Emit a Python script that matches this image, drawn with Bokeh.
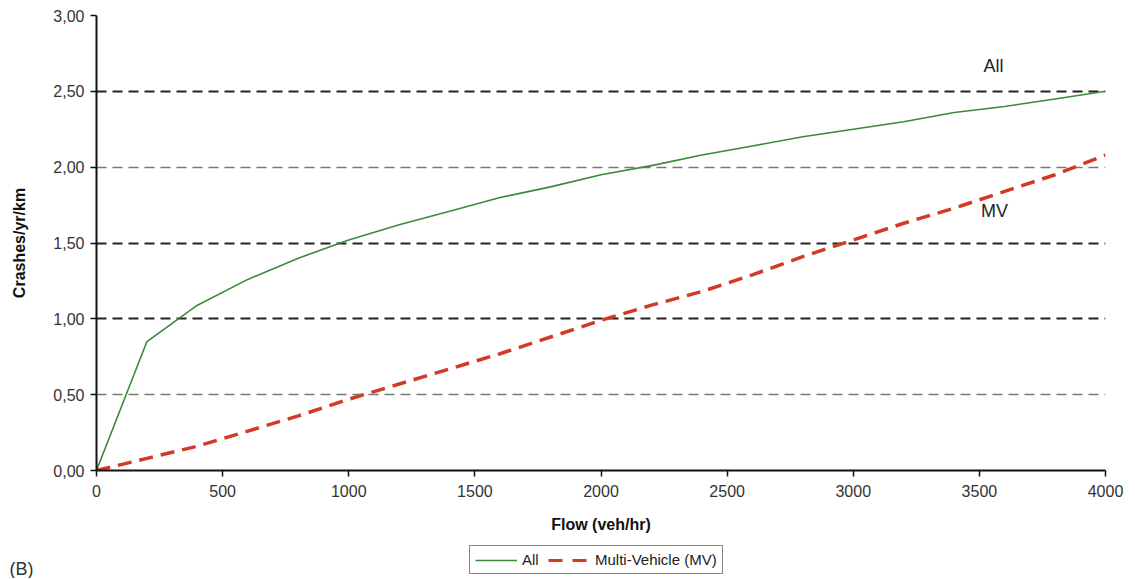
from bokeh.plotting import figure
from bokeh.models import Range1d, FixedTicker, CustomJSTickFormatter, Label, Legend, LegendItem, Grid
from bokeh.layouts import column
from bokeh.embed import file_html
from bokeh.resources import INLINE

flow = [0, 200, 400, 600, 800, 1000, 1200, 1400, 1600, 1800, 2000,
        2200, 2400, 2600, 2800, 3000, 3200, 3400, 3600, 3800, 4000]
all_crashes = [0.00, 0.85, 1.09, 1.26, 1.40, 1.52, 1.62, 1.71, 1.80, 1.87, 1.95,
               2.01, 2.08, 2.14, 2.20, 2.25, 2.30, 2.36, 2.40, 2.45, 2.50]
mv_crashes = [0.00, 0.08, 0.16, 0.26, 0.36, 0.47, 0.57, 0.67, 0.77, 0.88, 0.99,
              1.09, 1.18, 1.29, 1.41, 1.52, 1.63, 1.73, 1.84, 1.95, 2.08]
x_ticks = [0, 500, 1000, 1500, 2000, 2500, 3000, 3500, 4000]
y_ticks = [0.0, 0.5, 1.0, 1.5, 2.0, 2.5, 3.0]
grid_dark = [1.0, 1.5, 2.5, 3.0]
grid_light = [0.5, 2.0]

FONT = "Liberation Sans"
GREEN = "#3a8a3a"
RED = "#d23a26"

p = figure(width=1127, height=540, output_backend="svg", toolbar_location=None,
           x_range=Range1d(0, 4000), y_range=Range1d(0, 3),
           min_border_left=96, min_border_right=22, min_border_top=15, min_border_bottom=70)
p.outline_line_color = None

p.xaxis.ticker = FixedTicker(ticks=x_ticks)
p.yaxis.ticker = FixedTicker(ticks=y_ticks)
p.yaxis.formatter = CustomJSTickFormatter(code="return tick.toFixed(2).replace('.', ',');")
for ax in (p.xaxis, p.yaxis):
    ax.axis_line_color = "#111111"
    ax.axis_line_width = 2
    ax.major_tick_line_color = "#111111"
    ax.major_tick_line_width = 1.5
    ax.major_tick_in = 0
    ax.major_tick_out = 6
    ax.minor_tick_line_color = None
    ax.major_label_text_font = FONT
    ax.major_label_text_font_size = "16px"
    ax.major_label_text_color = "#333333"
    ax.axis_label_text_font = FONT
    ax.axis_label_text_font_style = "bold"
    ax.axis_label_text_font_size = "16px"
    ax.axis_label_text_color = "#111111"
p.xaxis.axis_label = "Flow (veh/hr)"
p.yaxis.axis_label = "Crashes/yr/km"
p.xaxis.major_label_standoff = 8
p.xaxis.axis_label_standoff = 16
p.yaxis.major_label_standoff = 6
p.yaxis.axis_label_standoff = 22

p.xgrid.grid_line_color = None
p.ygrid.ticker = FixedTicker(ticks=grid_dark)
p.ygrid.grid_line_color = "#222222"
p.ygrid.grid_line_width = 1.8
p.ygrid.grid_line_dash = "10 6"
p.add_layout(Grid(dimension=1, ticker=FixedTicker(ticks=grid_light),
                  grid_line_color="#777777", grid_line_width=1.6, grid_line_dash="10 6"))

p.line(flow, all_crashes, line_color=GREEN, line_width=1.6)
p.line(flow, mv_crashes, line_color=RED, line_width=3.5, line_dash="14 8")

p.add_layout(Label(x=3556, y=2.67, text="All", text_align="center", text_baseline="middle",
                   text_font=FONT, text_font_size="18px", text_color="#222222"))
p.add_layout(Label(x=3560, y=1.71, text="MV", text_align="center", text_baseline="middle",
                   text_font=FONT, text_font_size="18px", text_color="#222222"))

# bottom strip: legend and panel letter "(B)" (drawn as the strip's only axis label)
p2 = figure(width=1127, height=38, output_backend="svg", toolbar_location=None,
            x_range=Range1d(0, 1009), y_range=Range1d(100, 138),
            x_axis_location=None, y_axis_location="left",
            min_border_left=96, min_border_right=22, min_border_top=0, min_border_bottom=0)
p2.outline_line_color = None
p2.grid.visible = False
p2.yaxis.ticker = FixedTicker(ticks=[110])
p2.yaxis.formatter = CustomJSTickFormatter(code="return '(B)';")
p2.yaxis.axis_line_color = None
p2.yaxis.major_tick_line_color = None
p2.yaxis.minor_tick_line_color = None
p2.yaxis.major_label_standoff = 57
p2.yaxis.major_label_text_font = FONT
p2.yaxis.major_label_text_font_size = "18px"
p2.yaxis.major_label_text_color = "#333333"

# legend keys (their data lie outside this strip's ranges, only the keys show)
k_all = p2.line(flow, all_crashes, line_color=GREEN, line_width=1.6)
k_mv = p2.line(flow, mv_crashes, line_color=RED, line_width=3, line_dash="14 10")
legend = Legend(items=[LegendItem(label="All", renderers=[k_all]),
                       LegendItem(label="Multi-Vehicle (MV)", renderers=[k_mv])],
                orientation="horizontal", location=(373, 4),
                border_line_color="#111111", border_line_width=1.2,
                label_text_font=FONT, label_text_font_size="15px", label_text_color="#222222",
                glyph_width=42, glyph_height=16, label_height=16, label_standoff=5,
                spacing=6, padding=5, margin=0)
p2.add_layout(legend)

open("out.html", "w").write(file_html(column(p, p2, spacing=0), INLINE))
